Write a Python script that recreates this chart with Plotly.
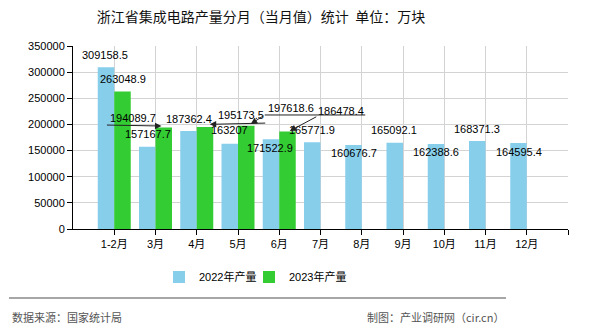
import plotly.graph_objects as go

categories = ["1-2月", "3月", "4月", "5月", "6月", "7月", "8月", "9月", "10月", "11月", "12月"]
prod_2022 = [309158.5, 157167.7, 187362.4, 163207, 171522.9, 165771.9, 160676.7, 165092.1, 162388.6, 168371.3, 164595.4]
prod_2023 = [263048.9, 194089.7, 195173.5, 197618.6, 186478.4]
series_names = ["2022年产量", "2023年产量"]
y_ticks = [0, 50000, 100000, 150000, 200000, 250000, 300000, 350000]

BLUE = "#87CEEB"
GREEN = "#33CC33"
FONT = "Liberation Sans, Noto Sans CJK SC, sans-serif"
CJK = "Noto Sans CJK SC, sans-serif"

# layout geometry (pixels)
W, H = 590, 330
L, R, T, B = 73, 568, 46, 229

xs = list(range(1, len(categories) + 1))
off = 0.2  # bar center offset within a group

# label offsets (style): (xshift, yshift) in pixels relative to bar top
blue_shift = [(-1, 12.5), (0.5, 13), (0, 11.7), (0, 13.7), (-1, -8.7), (0, 12.3),
              (0, -8.3), (-1, 12.7), (0, -8.2), (0, 12), (0, -8.7)]
green_shift = [(0, 12.5), (-31, 9.5), (35.75, 11.9), (45, 17.7), (53.75, 20.5)]
# leader lines for green labels: (index, xshift, yshift, ax, ay, arrowhead?)
green_leaders = [(1, -2.3, 1.5, -56, -1, True),
                 (2, 4.75, 2.6, 57, -1.3, True),
                 (3, 4.5, 1.7, 14, -9, True),
                 (3, 18.5, 10.7, 102, 0, False),
                 (4, 2.25, 0.5, 28, -15, True)]

fig = go.Figure()
fig.add_trace(go.Bar(x=xs, y=prod_2022, name=series_names[0], legend="legend",
                     marker=dict(color=BLUE, line=dict(width=0))))
fig.add_trace(go.Bar(x=xs[:len(prod_2023)], y=prod_2023, name=series_names[1], legend="legend2",
                     marker=dict(color=GREEN, line=dict(width=0))))

def fmt(v):
    return str(v)

ann = []
for i, v in enumerate(prod_2022):
    dx, dy = blue_shift[i]
    ann.append(dict(x=xs[i] - off, y=v, xref="x", yref="y", text=fmt(v), showarrow=False,
                    xanchor="center", yanchor="middle", xshift=dx, yshift=dy,
                    font=dict(family=FONT, size=11, color="#000")))
for i, v in enumerate(prod_2023):
    dx, dy = green_shift[i]
    ann.append(dict(x=xs[i] + off, y=v, xref="x", yref="y", text=fmt(v), showarrow=False,
                    xanchor="center", yanchor="middle", xshift=dx, yshift=dy,
                    font=dict(family=FONT, size=11, color="#000")))
for (i, dx, dy, ax, ay, head) in green_leaders:
    ann.append(dict(x=xs[i] + off, y=prod_2023[i], xref="x", yref="y", text="",
                    showarrow=True, arrowhead=2 if head else 0, arrowsize=1.3, arrowwidth=1,
                    arrowcolor="#222", ax=ax, ay=ay, axref="pixel", ayref="pixel",
                    xshift=dx, yshift=dy, standoff=0, startstandoff=0))

def px(xp):
    return (xp - L) / (R - L)

def py(yp):
    return (B - yp) / (B - T)

ann.append(dict(x=px(10), y=py(316.5), xref="paper", yref="paper", text="数据来源：国家统计局",
                showarrow=False, xanchor="left", yanchor="middle",
                font=dict(family=CJK, size=11, color="#555")))
ann.append(dict(x=px(506), y=py(316.5), xref="paper", yref="paper", text="制图：产业调研网（cir.cn）",
                showarrow=False, xanchor="right", yanchor="middle",
                font=dict(family=CJK, size=11, color="#555")))

legend_style = dict(orientation="h", xref="container", yref="container", y=1 - 277 / H,
                    xanchor="left", yanchor="middle", font=dict(family=FONT, size=11, color="#000"),
                    itemwidth=30, bgcolor="rgba(0,0,0,0)")

fig.update_layout(
    width=W, height=H,
    margin=dict(l=L, r=W - R, t=T, b=H - B, pad=0),
    paper_bgcolor="white", plot_bgcolor="white",
    barmode="group", bargap=0.2, bargroupgap=0,
    font=dict(family=FONT, size=11, color="#000"),
    title=dict(text="浙江省集成电路产量分月（当月值）统计  单位：万块", x=261 / W, xref="container",
               xanchor="center", y=1 - 17 / H, yref="container", yanchor="middle",
               font=dict(family=CJK, size=14, color="#111")),
    legend=dict(legend_style, x=(201 - 42) / W),
    legend2=dict(legend_style, x=(291 - 42) / W),
    annotations=ann,
    shapes=[dict(type="line", xref="paper", yref="paper", x0=px(9), x1=px(506), y0=py(298), y1=py(298),
                 line=dict(color="#888", width=1.5))],
    showlegend=True,
)
fig.update_xaxes(range=[0, len(categories) + 1], tickvals=xs + [len(categories) + 1],
                 ticktext=categories + [""], showline=True, linecolor="#000", linewidth=1,
                 ticks="outside", ticklen=5, tickcolor="#000", showgrid=True, gridcolor="#d3d3d3",
                 gridwidth=1, zeroline=False, tickfont=dict(family=FONT, size=11, color="#000"))
fig.update_yaxes(range=[0, 350000], tickvals=y_ticks, tickformat="d", showline=True, linecolor="#000",
                 linewidth=1, ticks="outside", ticklen=5, tickcolor="#000", showgrid=True,
                 gridcolor="#d3d3d3", gridwidth=1, zeroline=False,
                 tickfont=dict(family=FONT, size=11, color="#000"))

fig.write_html("out.html")
